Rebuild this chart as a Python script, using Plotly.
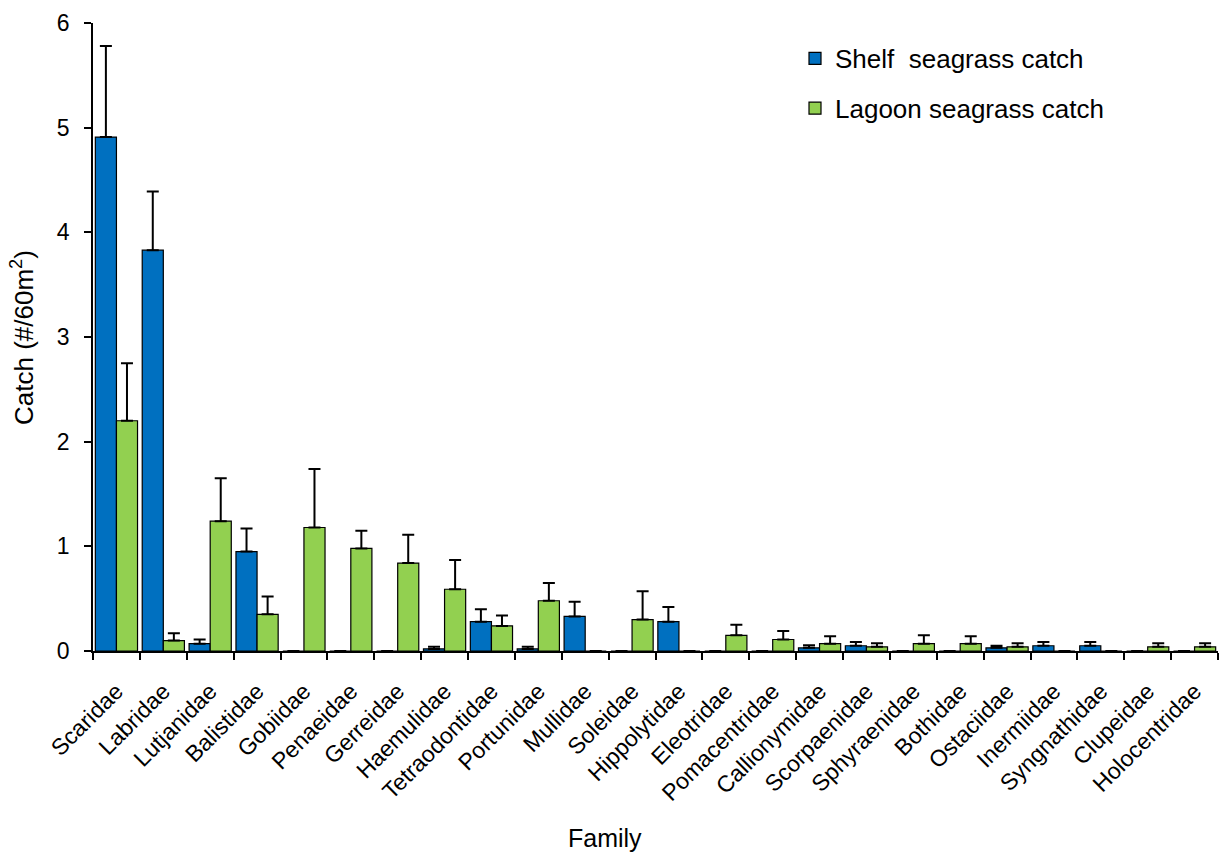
import plotly.graph_objects as go

families = ["Scaridae", "Labridae", "Lutjanidae", "Balistidae", "Gobiidae", "Penaeidae",
            "Gerreidae", "Haemulidae", "Tetraodontidae", "Portunidae", "Mullidae", "Soleidae",
            "Hippolytidae", "Eleotridae", "Pomacentridae", "Callionymidae", "Scorpaenidae",
            "Sphyraenidae", "Bothidae", "Ostaciidae", "Inermiidae", "Syngnathidae",
            "Clupeidae", "Holocentridae"]

shelf_catch = [4.91, 3.83, 0.07, 0.95, 0, 0, 0, 0.02, 0.28, 0.02, 0.33, 0,
               0.28, 0, 0, 0.03, 0.05, 0, 0, 0.03, 0.05, 0.05, 0, 0]
shelf_err = [0.87, 0.56, 0.04, 0.22, None, None, None, 0.02, 0.12, 0.02, 0.14, None,
             0.14, None, None, 0.025, 0.035, None, None, 0.02, 0.035, 0.035, None, None]

lagoon_catch = [2.2, 0.1, 1.24, 0.35, 1.18, 0.98, 0.84, 0.59, 0.24, 0.48, 0, 0.3,
                0, 0.15, 0.11, 0.07, 0.04, 0.07, 0.07, 0.04, 0, 0, 0.04, 0.04]
lagoon_err = [0.55, 0.07, 0.41, 0.17, 0.56, 0.17, 0.27, 0.28, 0.1, 0.17, None, 0.27,
              None, 0.1, 0.08, 0.07, 0.035, 0.08, 0.07, 0.035, None, None, 0.035, 0.035]

FONT = "Liberation Sans, Arial, sans-serif"
TICK_SIZE = 23
TITLE_SIZE = 25
LEGEND_SIZE = 26

def err(arr):
    return dict(type="data", symmetric=False, array=arr,
                arrayminus=[0] * len(arr), color="black", thickness=2, width=6)

fig = go.Figure()
fig.add_trace(go.Bar(x=families, y=shelf_catch, name="Shelf\u00a0 seagrass catch",
                     marker=dict(color="#0070C0", line=dict(color="black", width=1.2)),
                     error_y=err(shelf_err), legendgroup="a"))
fig.add_trace(go.Bar(x=families, y=lagoon_catch, name="Lagoon seagrass catch",
                     marker=dict(color="#92D050", line=dict(color="black", width=1.2)),
                     error_y=err(lagoon_err), legendgroup="b"))

fig.update_layout(
    width=1225, height=852,
    margin=dict(l=93, r=7, t=23, b=201),
    paper_bgcolor="white", plot_bgcolor="white",
    barmode="group", bargap=0.1, bargroupgap=0,
    font=dict(family=FONT, size=TICK_SIZE, color="black"),
    showlegend=True,
    legend=dict(x=0.624, y=0.981, xanchor="left", yanchor="top",
                font=dict(size=LEGEND_SIZE, family=FONT, color="black"),
                traceorder="grouped", tracegroupgap=13,
                bgcolor="rgba(0,0,0,0)"),
    xaxis=dict(type="category", tickson="boundaries", ticks="outside", ticklen=7,
               tickwidth=1.5, tickcolor="black", showline=True, linecolor="black",
               linewidth=1.5, tickangle=-45, showgrid=False, ticklabelstandoff=16,
               tickfont=dict(size=TICK_SIZE, family=FONT, color="black")),
    yaxis=dict(range=[0, 6], tickvals=[0, 1, 2, 3, 4, 5, 6], ticks="outside", ticklen=7,
               tickwidth=1.5, tickcolor="black", showline=True, linecolor="black",
               linewidth=1.5, showgrid=False, zeroline=False, ticklabelstandoff=10,
               tickfont=dict(size=TICK_SIZE, family=FONT, color="black")),
    annotations=[
        dict(text="Family", xref="paper", yref="paper", x=(605 - 93) / 1125,
             y=-(838 - 651) / 628, xanchor="center", yanchor="middle",
             showarrow=False, font=dict(size=TITLE_SIZE, family=FONT, color="black")),
        dict(text="Catch (#/60m<sup>2</sup>)", xref="paper", yref="paper",
             x=(22 - 93) / 1125, y=(651 - 337) / 628, xanchor="center", yanchor="middle",
             textangle=-90, showarrow=False,
             font=dict(size=26, family=FONT, color="black")),
    ],
)

fig.write_html("out.html", config={"displayModeBar": False},
               post_script="document.body.style.margin='0';document.body.style.padding='0';")
